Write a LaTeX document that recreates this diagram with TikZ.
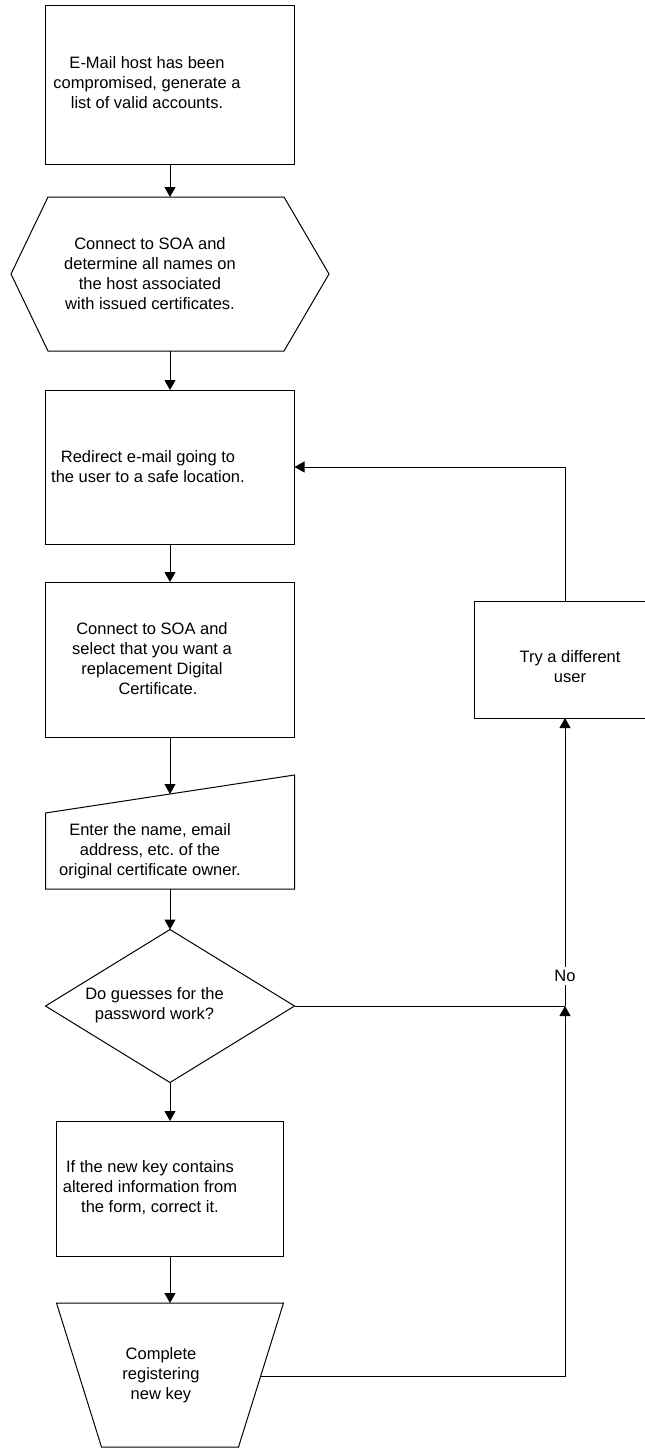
\documentclass[tikz,border=0pt]{standalone}
\usepackage{fontspec}
\setmainfont{Liberation Sans}
\usetikzlibrary{arrows.meta,shapes.geometric,calc}
\newcommand{\flowfont}{\fontsize{16.5}{20}\selectfont}

\begin{document}
\begin{tikzpicture}[x=1pt,y=-1pt,line width=1pt,>={Triangle[length=10pt,width=11pt]}]
		\tikzstyle{every node}+=[inner sep=0pt,outer sep=0pt]
		\tikzstyle{box}=[draw,rectangle]
		\tikzstyle{frame}=[rectangle]
		\tikzstyle{txt}=[align=center,font=\flowfont]
		\useasboundingbox (0,0) rectangle (645,1448);
		% steps of the left column
		\node [box,minimum width=249,minimum height=159] (mail) at (170,84.5) {};
		\node [frame,minimum width=318,minimum height=154] (soa) at (170,274) {};
		\draw [black] (soa.west) -- ([xshift=37]soa.north west) -- ([xshift=-45]soa.north east) -- (soa.east) -- ([xshift=-45]soa.south east) -- ([xshift=37]soa.south west) -- cycle;
		\node [box,minimum width=249,minimum height=154] (redirect) at (170,467) {};
		\node [box,minimum width=249,minimum height=155] (request) at (170,659.5) {};
		\node [frame,minimum width=249,minimum height=114] (enter) at (170,832) {};
		\draw [black] (enter.south west) -- ([yshift=-38]enter.north west) -- (enter.north east) -- (enter.south east) -- cycle;
		\coordinate (enter-in) at ([yshift=-19]enter.north);
		\node [draw,diamond,minimum width=249,minimum height=153] (guess) at (170,1006) {};
		\node [box,minimum width=227,minimum height=135] (fix) at (170,1188.5) {};
		\node [frame,minimum width=227,minimum height=144] (done) at (170,1375) {};
		\draw [black] (done.north west) -- (done.north east) -- ([xshift=-45]done.south east) -- ([xshift=45]done.south west) -- cycle;
		\coordinate (done-out) at ($(done.north east)!0.507!([xshift=-45]done.south east)$);
		% the retry step
		\node [box,minimum width=176,minimum height=117] (retry) at (562,659.5) {};
		% texts
		\node [txt] (mail-t) at (147,83) {E-Mail host has been\\compromised, generate a\\list of valid accounts.};
		\node [txt] (soa-t) at (150,274) {Connect to SOA and\\determine all names on\\the host associated\\with issued certificates.};
		\node [txt] (redirect-t) at (148,467) {Redirect e-mail going to\\the user to a safe location.};
		\node [txt] (request-t) at (152,659) {Connect to SOA and\\select that you want a\\replacement Digital\\\hspace{12pt}Certificate.};
		\node [txt] (retry-t) at (570,667) {Try a different\\user};
		\node [txt] (enter-t) at (150,851) {Enter the name, email\\address, etc.\ of the\\original certificate owner.};
		\node [txt] (guess-t) at (154.5,1005) {Do guesses for the\\password work?};
		\node [txt] (fix-t) at (150,1188) {If the new key contains\\altered information from\\the form, correct it.};
		\node [txt] (done-t) at (161,1375) {Complete\\registering\\new key};
		% connectors
		\draw [black,->] (mail) -- (soa);
		\draw [black,->] (soa) -- (redirect);
		\draw [black,->] (redirect) -- (request);
		\draw [black,->] (request) -- (enter-in);
		\draw [black,->] (enter) -- (guess);
		\draw [black,->] (guess) -- (fix);
		\draw [black,->] (fix) -- (done);
		\coordinate (split) at (565,1006);
		\draw [black] (guess.east) -- (split);
		\draw [black,->] (split) -- node [txt,pos=0.104,fill=white,inner sep=3pt] (no) {No} (split |- retry.south);
		\draw [black,->] (done-out) -| (split);
		\draw [black,->] (split |- retry.north) |- (redirect.east);
	\end{tikzpicture}
\end{document}
